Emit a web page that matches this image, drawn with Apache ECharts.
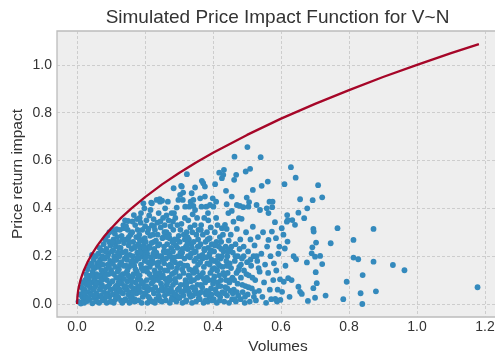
<!DOCTYPE html>
<html>
<head>
<meta charset="utf-8">
<script src="https://cdn.jsdelivr.net/npm/echarts@6/dist/echarts.min.js"></script>
<style>
  html, body { margin: 0; padding: 0; background: #ffffff; }
  #chart { width: 495px; height: 355px; }
</style>
</head>
<body>
<div id="chart"></div>
<script>
// Square-root impact curve, sampled points (volume, impact)
const curveVolumes = [0, 0.001, 0.003, 0.006, 0.01, 0.015, 0.02, 0.03, 0.045, 0.06, 0.08, 0.1, 0.13, 0.16,
  0.2, 0.25, 0.3, 0.35, 0.4, 0.5, 0.6, 0.7, 0.8, 0.9, 1.0, 1.1, 1.182];
const curveImpacts = [0, 0.032, 0.055, 0.077, 0.1, 0.122, 0.141, 0.173, 0.212, 0.245, 0.283, 0.316, 0.361, 0.4,
  0.447, 0.5, 0.548, 0.592, 0.632, 0.707, 0.775, 0.837, 0.894, 0.949, 1.0, 1.049, 1.087];

// Simulated trades: [volume, price return impact]
const tradeSamples = [
  [0.004,0.01],[0.008,0.04],[0.011,0.002],[0.013,0.07],[0.015,0.03],[0.017,0.09],[0.019,0.015],[0.018,0.055],
  [0.021,0.005],[0.022,0.06],[0.024,0.1],[0.025,0.03],[0.027,0.125],[0.028,0.08],[0.03,0.012],[0.031,0.145],[0.033,0.05],[0.034,0.1],[0.036,0.02],[0.037,0.16],[0.038,0.07],[0.039,0.118],
  [0.041,0.04],[0.042,0.17],[0.043,0.09],[0.045,0.003],[0.046,0.135],[0.047,0.06],[0.049,0.185],[0.05,0.11],[0.051,0.025],[0.052,0.15],[0.054,0.075],[0.055,0.2],[0.056,0.045],[0.057,0.125],[0.058,0.01],[0.059,0.17],[0.044,0.205],[0.053,0.095],
  [0.061,0.03],[0.062,0.21],[0.063,0.09],[0.064,0.155],[0.065,0.005],[0.066,0.235],[0.067,0.06],[0.068,0.185],[0.069,0.12],[0.07,0.035],[0.071,0.225],[0.072,0.14],[0.073,0.08],[0.074,0.2],[0.075,0.015],[0.076,0.165],[0.077,0.105],[0.078,0.25],[0.079,0.05],[0.08,0.13],
  [0.081,0.02],[0.082,0.19],[0.083,0.27],[0.084,0.07],[0.085,0.145],[0.086,0.23],[0.087,0.005],[0.088,0.1],[0.089,0.285],[0.09,0.165],[0.091,0.045],[0.092,0.21],[0.093,0.125],[0.094,0.26],[0.095,0.03],[0.096,0.085],[0.097,0.18],[0.098,0.245],[0.099,0.06],[0.1,0.14],[0.095,0.3],
  [0.101,0.01],[0.102,0.22],[0.103,0.31],[0.104,0.095],[0.105,0.17],[0.106,0.04],[0.107,0.27],[0.108,0.125],[0.109,0.2],[0.11,0.065],[0.111,0.295],[0.112,0.155],[0.113,0.02],[0.114,0.24],[0.115,0.11],[0.116,0.185],[0.117,0.05],[0.118,0.28],[0.119,0.135],[0.12,0.08],[0.116,0.313],[0.112,0.255],[0.108,0.005],
  [0.121,0.03],[0.122,0.26],[0.123,0.145],[0.124,0.2],[0.125,0.06],[0.126,0.31],[0.127,0.1],[0.128,0.235],[0.129,0.015],[0.13,0.175],[0.131,0.285],[0.132,0.085],[0.133,0.215],[0.134,0.125],[0.135,0.045],[0.136,0.33],[0.137,0.16],[0.138,0.255],[0.139,0.07],[0.14,0.19],[0.133,0.005],[0.128,0.115],[0.137,0.317],
  [0.141,0.35],[0.142,0.02],[0.143,0.22],[0.144,0.13],[0.145,0.27],[0.146,0.06],[0.147,0.185],[0.148,0.095],[0.149,0.31],[0.15,0.347],[0.151,0.04],[0.152,0.245],[0.153,0.155],[0.154,0.005],[0.155,0.205],[0.156,0.11],[0.157,0.29],[0.158,0.075],[0.159,0.17],[0.16,0.23],[0.144,0.325],[0.152,0.28],[0.157,0.01],[0.148,0.14],[0.155,0.05],
  [0.161,0.03],[0.162,0.3],[0.163,0.115],[0.164,0.2],[0.165,0.26],[0.166,0.065],[0.167,0.372],[0.168,0.16],[0.169,0.235],[0.17,0.01],[0.171,0.33],[0.172,0.09],[0.173,0.18],[0.174,0.28],[0.175,0.045],[0.176,0.135],[0.177,0.215],[0.178,0.31],[0.179,0.075],[0.18,0.25],[0.163,0.345],[0.176,0.355],[0.169,0.02],[0.172,0.145],[0.178,0.105],
  [0.181,0.015],[0.182,0.19],[0.183,0.29],[0.184,0.12],[0.185,0.235],[0.186,0.05],[0.187,0.34],[0.188,0.165],[0.189,0.265],[0.19,0.085],[0.191,0.2],[0.192,0.31],[0.193,0.03],[0.194,0.14],[0.195,0.421],[0.196,0.245],[0.197,0.07],[0.198,0.4],[0.199,0.18],[0.2,0.325],[0.184,0.36],[0.19,0.005],[0.193,0.215],[0.186,0.1],[0.199,0.275],[0.188,0.38],
  [0.201,0.04],[0.202,0.26],[0.203,0.15],[0.204,0.35],[0.205,0.1],[0.206,0.21],[0.207,0.005],[0.208,0.3],[0.209,0.175],[0.21,0.065],[0.211,0.24],[0.212,0.37],[0.213,0.125],[0.214,0.02],[0.215,0.285],[0.216,0.393],[0.217,0.195],[0.218,0.424],[0.219,0.085],[0.22,0.33],[0.22,0.421],[0.205,0.225],[0.21,0.315],[0.214,0.155],[0.207,0.055],[0.219,0.255],
  [0.221,0.01],[0.222,0.18],[0.223,0.29],[0.224,0.095],[0.225,0.355],[0.226,0.045],[0.227,0.23],[0.228,0.14],[0.229,0.31],[0.23,0.07],[0.231,0.2],[0.232,0.265],[0.233,0.02],[0.234,0.435],[0.235,0.115],[0.236,0.34],[0.237,0.16],[0.238,0.245],[0.239,0.055],[0.24,0.38],[0.225,0.11],[0.229,0.005],[0.233,0.215],[0.237,0.29],[0.226,0.325],[0.24,0.175],
  [0.241,0.03],[0.242,0.25],[0.243,0.438],[0.244,0.428],[0.245,0.15],[0.246,0.32],[0.247,0.085],[0.248,0.2],[0.249,0.01],[0.25,0.432],[0.251,0.275],[0.252,0.12],[0.253,0.36],[0.254,0.055],[0.255,0.22],[0.256,0.17],[0.257,0.3],[0.258,0.035],[0.259,0.4],[0.26,0.105],[0.245,0.345],[0.248,0.06],[0.252,0.185],[0.256,0.24],[0.243,0.13],[0.258,0.33],
  [0.261,0.015],[0.262,0.19],[0.263,0.3],[0.264,0.08],[0.265,0.25],[0.266,0.14],[0.267,0.428],[0.268,0.045],[0.269,0.35],[0.27,0.21],[0.271,0.11],[0.272,0.275],[0.273,0.005],[0.274,0.165],[0.275,0.325],[0.276,0.065],[0.277,0.235],[0.278,0.38],[0.279,0.125],[0.28,0.03],[0.265,0.09],[0.27,0.29],[0.274,0.2],[0.278,0.155],[0.263,0.37],[0.28,0.26],
  [0.281,0.05],[0.282,0.22],[0.283,0.31],[0.284,0.484],[0.285,0.13],[0.286,0.02],[0.287,0.27],[0.288,0.175],[0.289,0.36],[0.29,0.09],[0.291,0.245],[0.292,0.01],[0.293,0.403],[0.294,0.15],[0.295,0.33],[0.296,0.06],[0.297,0.2],[0.298,0.435],[0.299,0.285],[0.3,0.115],[0.285,0.38],[0.29,0.04],[0.295,0.235],[0.288,0.105],[0.298,0.165],[0.282,0.345],
  [0.301,0.025],[0.302,0.26],[0.303,0.456],[0.304,0.17],[0.305,0.08],[0.306,0.494],[0.307,0.335],[0.308,0.491],[0.309,0.215],[0.31,0.005],[0.311,0.435],[0.312,0.466],[0.313,0.13],[0.314,0.29],[0.315,0.055],[0.316,0.19],[0.317,0.36],[0.318,0.407],[0.319,0.1],[0.32,0.24],[0.304,0.31],[0.309,0.145],[0.313,0.035],[0.317,0.27],[0.306,0.2],[0.32,0.07],
  [0.321,0.015],[0.322,0.3],[0.323,0.543],[0.324,0.16],[0.325,0.23],[0.326,0.065],[0.327,0.35],[0.328,0.12],[0.329,0.27],[0.33,0.407],[0.331,0.04],[0.332,0.195],[0.333,0.32],[0.334,0.428],[0.335,0.095],[0.336,0.25],[0.337,0.463],[0.338,0.005],[0.339,0.14],[0.34,0.375],[0.325,0.28],[0.329,0.05],[0.335,0.21],[0.339,0.3],[0.332,0.11],
  [0.341,0.035],[0.342,0.435],[0.343,0.26],[0.344,0.1],[0.345,0.18],[0.346,0.33],[0.347,0.487],[0.348,0.06],[0.349,0.22],[0.35,0.01],[0.351,0.29],[0.352,0.135],[0.353,0.36],[0.354,0.08],[0.355,0.24],[0.356,0.165],[0.357,0.31],[0.358,0.025],[0.359,0.2],[0.36,0.115],[0.342,0.41],[0.347,0.393],[0.352,0.045],[0.356,0.27],[0.349,0.15],
  [0.361,0.02],[0.362,0.442],[0.363,0.25],[0.364,0.12],[0.365,0.33],[0.366,0.407],[0.367,0.515],[0.368,0.07],[0.369,0.19],[0.37,0.29],[0.371,0.505],[0.372,0.005],[0.373,0.155],[0.374,0.36],[0.375,0.225],[0.376,0.491],[0.377,0.09],[0.378,0.26],[0.379,0.04],[0.38,0.407],[0.376,0.449],[0.364,0.31],[0.369,0.205],[0.373,0.105],
  [0.381,0.055],[0.382,0.3],[0.383,0.17],[0.384,0.01],[0.385,0.235],[0.386,0.35],[0.387,0.1],[0.388,0.2],[0.389,0.03],[0.39,0.275],[0.391,0.414],[0.392,0.13],[0.393,0.32],[0.394,0.065],[0.395,0.185],[0.396,0.25],[0.397,0.015],[0.398,0.145],[0.399,0.442],[0.4,0.085],[0.385,0.38],[0.39,0.21],[0.395,0.04],
  [0.401,0.407],[0.402,0.02],[0.403,0.22],[0.404,0.115],[0.405,0.3],[0.406,0.501],[0.407,0.06],[0.408,0.18],[0.409,0.428],[0.41,0.26],[0.411,0.005],[0.412,0.14],[0.413,0.33],[0.414,0.09],[0.415,0.2],[0.416,0.04],[0.417,0.24],[0.418,0.549],[0.419,0.16],[0.42,0.28],[0.409,0.36],[0.415,0.075],
  [0.421,0.03],[0.422,0.19],[0.423,0.1],[0.424,0.26],[0.426,0.526],[0.426,0.317],[0.427,0.05],[0.428,0.155],[0.43,0.54],[0.431,0.22],[0.432,0.561],[0.433,0.01],[0.434,0.12],[0.435,0.331],[0.436,0.07],[0.437,0.24],[0.438,0.473],[0.439,0.18],[0.44,0.314],[0.44,0.417],[0.429,0.29],
  [0.441,0.035],[0.442,0.2],[0.443,0.13],[0.445,0.38],[0.446,0.265],[0.447,0.005],[0.448,0.09],[0.449,0.17],[0.45,0.23],[0.451,0.055],[0.452,0.29],[0.453,0.15],[0.455,0.389],[0.455,0.449],[0.456,0.02],[0.457,0.11],[0.458,0.215],[0.46,0.344],
  [0.461,0.06],[0.462,0.519],[0.463,0.616],[0.464,0.18],[0.466,0.25],[0.467,0.01],[0.468,0.54],[0.469,0.13],[0.47,0.414],[0.47,0.314],[0.472,0.085],[0.473,0.2],[0.474,0.035],[0.476,0.359],[0.477,0.155],[0.479,0.41],[0.48,0.27],
  [0.481,0.02],[0.482,0.11],[0.484,0.356],[0.485,0.19],[0.487,0.05],[0.489,0.405],[0.49,0.24],[0.491,0.14],[0.493,0.005],[0.495,0.075],[0.496,0.554],[0.497,0.3],[0.499,0.445],[0.5,0.175],
  [0.501,0.656],[0.502,0.04],[0.503,0.22],[0.504,0.407],[0.505,0.12],[0.506,0.426],[0.508,0.01],[0.509,0.565],[0.51,0.27],[0.512,0.16],[0.514,0.065],[0.517,0.477],[0.517,0.323],[0.519,0.2],[0.52,0.03],
  [0.522,0.245],[0.524,0.1],[0.526,0.015],[0.528,0.414],[0.53,0.18],[0.532,0.28],[0.535,0.055],[0.537,0.135],[0.538,0.393],[0.54,0.614],
  [0.542,0.21],[0.543,0.494],[0.545,0.03],[0.547,0.3],[0.55,0.09],[0.553,0.165],[0.556,0.005],[0.558,0.4],[0.559,0.24],
  [0.561,0.512],[0.562,0.13],[0.563,0.38],[0.563,0.268],[0.566,0.428],[0.567,0.06],[0.569,0.2],[0.571,0.02],[0.573,0.303],[0.574,0.405],[0.575,0.428],[0.577,0.1],[0.579,0.17],
  [0.582,0.342],[0.583,0.021],[0.585,0.275],[0.586,0.14],[0.588,0.01],[0.59,0.06],[0.592,0.21],[0.595,0.24],[0.597,0.103],[0.598,0.017],
  [0.602,0.317],[0.603,0.051],[0.607,0.29],[0.608,0.093],[0.61,0.501],[0.611,0.232],[0.613,0.16],[0.617,0.344],[0.618,0.372],[0.619,0.261],[0.62,0.351],
  [0.621,0.108],[0.625,0.03],[0.629,0.572],[0.631,0.1],[0.633,0.351],[0.637,0.2],
  [0.641,0.331],[0.643,0.528],[0.644,0.187],[0.651,0.382],[0.651,0.072],[0.656,0.438],[0.656,0.051],[0.661,0.042],
  [0.668,0.359],[0.676,0.174],[0.677,0.4],[0.679,0.013],[0.69,0.212],[0.692,0.237],[0.693,0.434],[0.695,0.314],[0.696,0.303],[0.695,0.066],
  [0.7,0.198],[0.7,0.026],[0.702,0.133],[0.703,0.257],[0.705,0.087],[0.709,0.497],[0.715,0.201],[0.721,0.446],[0.721,0.167],[0.731,0.035],[0.746,0.254],
  [0.766,0.317],[0.783,0.02],[0.793,0.093],[0.813,0.268],[0.813,0.194],[0.827,0.187],[0.834,0.045],[0.839,0.0],[0.84,0.121],
  [0.872,0.314],[0.872,0.177],[0.879,0.053],[0.929,0.163],[0.963,0.141],[1.178,0.07],
  // low-impact trades filling the dense core
  [0.023,0.045],[0.029,0.11],[0.035,0.085],[0.032,0.025],
  [0.043,0.12],[0.048,0.155],[0.053,0.035],[0.057,0.085],[0.05,0.065],
  [0.062,0.115],[0.066,0.175],[0.07,0.07],[0.074,0.025],[0.078,0.19],[0.072,0.1],
  [0.082,0.115],[0.086,0.035],[0.09,0.2],[0.094,0.155],[0.098,0.01],[0.084,0.22],[0.092,0.075],
  [0.102,0.13],[0.106,0.225],[0.11,0.185],[0.114,0.075],[0.118,0.03],[0.104,0.26],[0.12,0.215],
  [0.122,0.09],[0.126,0.165],[0.13,0.05],[0.134,0.27],[0.138,0.105],[0.124,0.235],[0.14,0.015],
  [0.142,0.075],[0.146,0.2],[0.15,0.12],[0.154,0.26],[0.158,0.025],[0.144,0.16],[0.16,0.095],
  [0.162,0.18],[0.166,0.125],[0.17,0.24],[0.174,0.055],[0.178,0.195],[0.164,0.045],[0.18,0.12],
  [0.182,0.065],[0.186,0.215],[0.19,0.15],[0.194,0.09],[0.198,0.235],[0.184,0.27],[0.2,0.045],
  [0.202,0.195],[0.206,0.135],[0.21,0.03],[0.214,0.235],[0.218,0.11],[0.204,0.075],[0.22,0.17],
  [0.222,0.06],[0.226,0.26],[0.23,0.13],[0.234,0.17],[0.238,0.1],[0.224,0.21],[0.24,0.035],
  [0.242,0.2],[0.246,0.11],[0.25,0.07],[0.254,0.28],[0.258,0.14],[0.244,0.015],[0.26,0.215],
  [0.262,0.06],[0.266,0.22],[0.27,0.16],[0.274,0.1],[0.278,0.02],[0.264,0.28],[0.28,0.185],
  [0.282,0.08],[0.286,0.195],[0.29,0.135],[0.294,0.27],[0.298,0.03],[0.284,0.255],[0.3,0.065],
  [0.302,0.115],[0.306,0.05],[0.31,0.23],[0.314,0.16],[0.318,0.085],[0.304,0.215],[0.32,0.01],
  [0.322,0.085],[0.326,0.2],[0.33,0.145],[0.334,0.03],[0.338,0.235],[0.324,0.25],[0.34,0.07],
  [0.342,0.13],[0.346,0.055],[0.35,0.19],[0.354,0.11],[0.358,0.24],[0.344,0.215],[0.36,0.045],
  [0.362,0.175],[0.366,0.05],[0.37,0.13],[0.374,0.23],[0.378,0.015],[0.364,0.08],[0.38,0.195],
  [0.382,0.11],[0.386,0.05],[0.39,0.165],[0.394,0.225],[0.398,0.1],[0.384,0.27],[0.4,0.18],
  [0.402,0.1],[0.406,0.245],[0.41,0.045],[0.414,0.17],[0.418,0.12],[0.404,0.15],[0.42,0.015],
  [0.422,0.075],[0.426,0.2],[0.43,0.13],[0.434,0.045],[0.438,0.1],[0.424,0.23],[0.44,0.16],
  [0.442,0.065],[0.446,0.16],[0.45,0.1],[0.454,0.24],[0.458,0.045],[0.444,0.22],
  [0.462,0.1],[0.466,0.2],[0.47,0.05],[0.474,0.14],[0.478,0.23],[0.464,0.02],
  [0.482,0.165],[0.486,0.08],[0.49,0.2],[0.494,0.03],[0.498,0.125],
  [0.504,0.07],[0.51,0.185],[0.516,0.11],[0.522,0.05],[0.528,0.2],[0.534,0.15]
];

// Axis extents (data range plus 5% margin on each side)
const volumeRange = [-0.0591, 1.2411];
const impactRange = [-0.0544, 1.1415];

const FONT = "'Liberation Sans', Arial, sans-serif";
const curveData = curveVolumes.map((v, i) => [v, curveImpacts[i]]);

const chart = echarts.init(document.getElementById('chart'), null, { renderer: 'canvas' });

const axisCommon = {
  type: 'value',
  splitNumber: 6,
  axisLine: { show: false },
  axisTick: { show: false },
  axisLabel: {
    color: '#333333',
    fontFamily: FONT,
    fontSize: 14,
    showMinLabel: false,
    showMaxLabel: false,
    formatter: v => v.toFixed(1)
  },
  splitLine: {
    show: true,
    showMinLine: false,
    showMaxLine: false,
    lineStyle: { color: '#c4c4c4', width: 0.8, type: [3, 2] }
  },
  nameLocation: 'middle',
  nameMoveOverlap: false,
  nameTextStyle: { color: '#333333', fontFamily: FONT, fontSize: 15.5 }
};

chart.setOption({
  animation: false,
  backgroundColor: '#ffffff',
  title: {
    text: 'Simulated Price Impact Function for V~N',
    left: 277.5,
    top: 8,
    padding: 0,
    textAlign: 'center',
    textStyle: { color: '#333333', fontFamily: FONT, fontSize: 19, fontWeight: 'normal' }
  },
  grid: {
    left: 57,
    top: 31,
    width: 442,
    height: 286,
    outerBoundsMode: 'none',
    containLabel: false,
    show: true,
    backgroundColor: '#eeeeee',
    borderColor: '#bcbcbc',
    borderWidth: 1.3
  },
  xAxis: Object.assign({}, axisCommon, {
    min: volumeRange[0],
    max: volumeRange[1],
    name: 'Volumes',
    nameGap: 22,
    axisLabel: Object.assign({}, axisCommon.axisLabel, { margin: 3 })
  }),
  yAxis: Object.assign({}, axisCommon, {
    min: impactRange[0],
    max: impactRange[1],
    name: 'Price return impact',
    nameGap: 31,
    axisLabel: Object.assign({}, axisCommon.axisLabel, { margin: 5 })
  }),
  series: [
    {
      type: 'scatter',
      data: tradeSamples,
      symbol: 'circle',
      symbolSize: 5.8,
      itemStyle: { color: '#348ABD', opacity: 1 },
      emphasis: { disabled: true },
      z: 2
    },
    {
      type: 'line',
      data: curveData,
      showSymbol: false,
      smooth: false,
      lineStyle: { color: '#A60628', width: 2.3 },
      emphasis: { disabled: true },
      z: 3
    }
  ]
});
</script>
</body>
</html>
